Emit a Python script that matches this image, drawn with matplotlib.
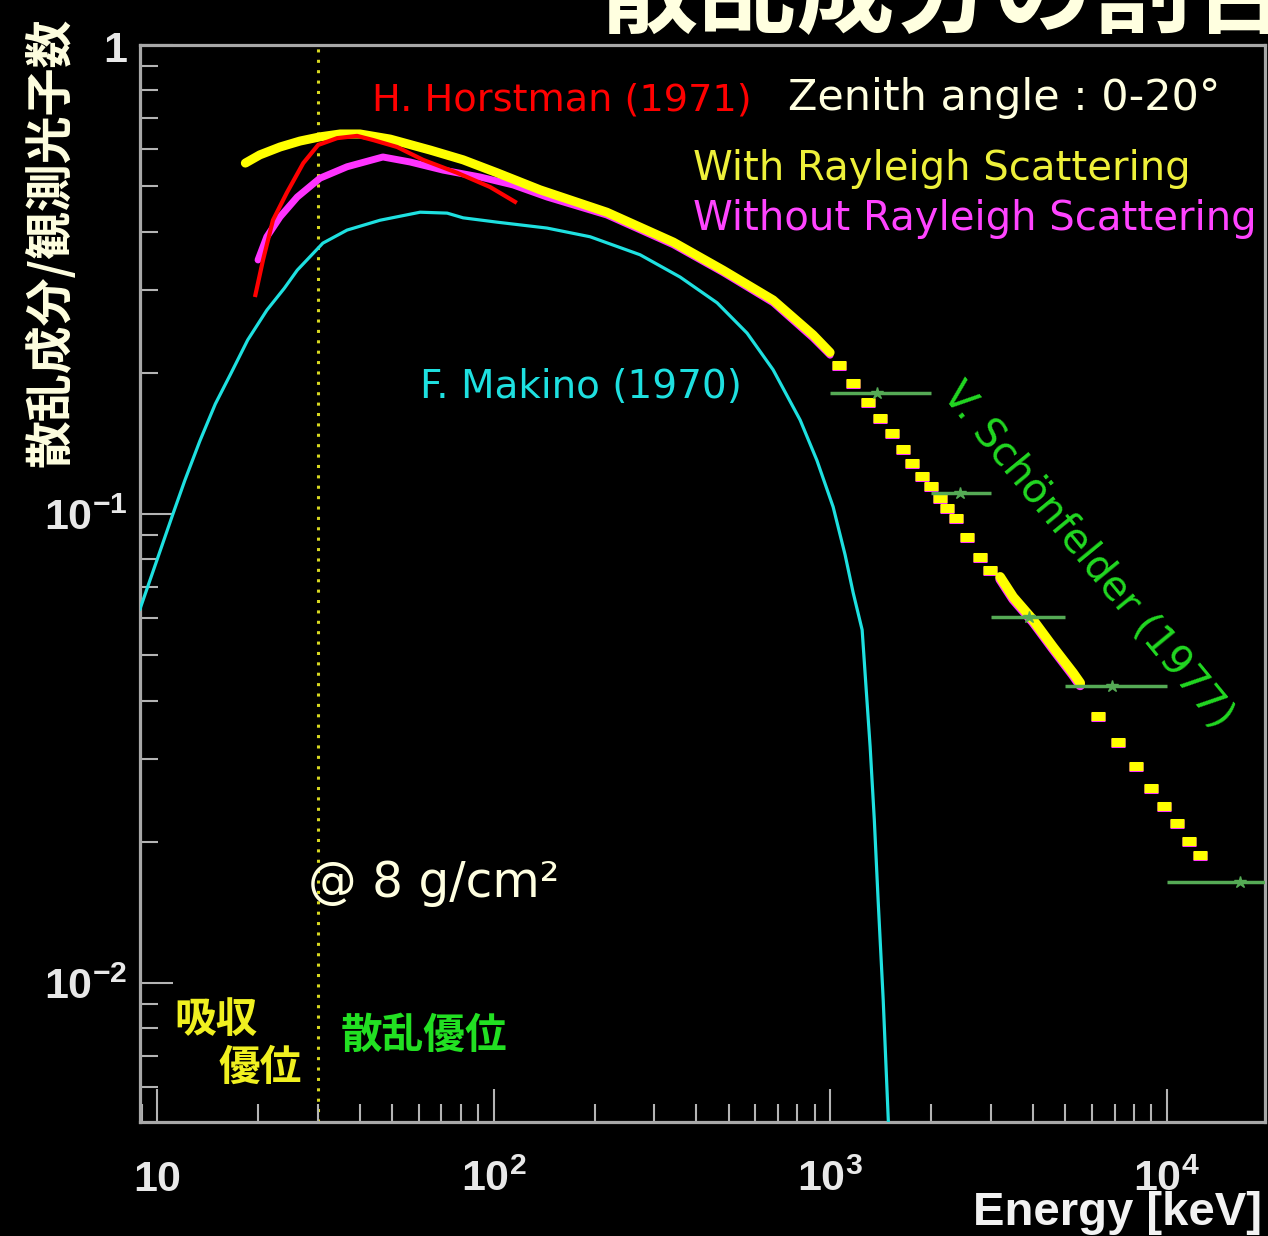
import matplotlib
matplotlib.use("Agg")
import matplotlib.pyplot as plt
from matplotlib.ticker import LogLocator, NullFormatter

plt.rcParams["mathtext.fontset"] = "custom"
plt.rcParams["mathtext.rm"] = "Liberation Sans:bold"
plt.rcParams["mathtext.bf"] = "Liberation Sans:bold"
plt.rcParams["mathtext.it"] = "Liberation Sans:bold"
plt.rcParams["mathtext.default"] = "rm"

# ---- data -------------------------------------------------------------
# Simulation, with Rayleigh scattering (continuous part up to 1 MeV)
with_e = [18.3, 20.2, 23.2, 26.6, 30.5, 35.0, 40.1, 49.3, 64.8, 81.2, 102.4,
          137.5, 217, 342, 481, 677, 890, 1000]
with_f = [0.560, 0.583, 0.606, 0.624, 0.637, 0.646, 0.646, 0.630, 0.597, 0.569,
          0.534, 0.491, 0.440, 0.380, 0.331, 0.286, 0.241, 0.221]

# Simulation, without Rayleigh scattering
without_e = [19.96, 21.2, 23.2, 26.1, 30.5, 36.7, 46.9, 56.5, 70.8, 91.2, 114.3,
             144.2, 217, 342, 481, 677, 890, 1000]
without_f = [0.348, 0.390, 0.430, 0.474, 0.520, 0.550, 0.577, 0.563, 0.541, 0.523,
             0.503, 0.474, 0.434, 0.375, 0.327, 0.282, 0.237, 0.218]

# High-energy bins of both simulations (sparse statistics)
hi_e1 = [1064, 1171, 1297, 1408, 1529, 1648, 1753, 1877, 1996, 2123, 2227, 2369,
         2553, 2792, 2989]
hi_with1 = [0.208, 0.190, 0.173, 0.160, 0.149, 0.1376, 0.1284, 0.1205, 0.1147,
            0.1082, 0.103, 0.098, 0.0893, 0.081, 0.076]
hi_without1 = [0.207, 0.189, 0.172, 0.159, 0.148, 0.137, 0.1278, 0.1199, 0.1141,
               0.1077, 0.1025, 0.0975, 0.0889, 0.0806, 0.0756]

mid_e = [3201, 3499, 4011, 4600, 5274, 5534]
mid_with = [0.0734, 0.0665, 0.0594, 0.052, 0.0458, 0.0436]
mid_without = [0.0726, 0.0658, 0.0588, 0.0515, 0.0453, 0.0431]

hi_e2 = [6257, 7177, 8120, 8995, 9831, 10746, 11667, 12583]
hi_with2 = [0.0371, 0.0327, 0.029, 0.026, 0.0238, 0.0219, 0.0201, 0.0187]
hi_without2 = [0.0369, 0.0325, 0.0288, 0.0259, 0.0237, 0.0218, 0.0200, 0.0186]

# H. Horstman (1971)
horst_e = [19.6, 20.65, 22.1, 24.3, 27.2, 30.1, 34.3, 39.3, 43.9, 51.7, 61.7,
           77.9, 97.6, 115.8]
horst_f = [0.293, 0.348, 0.423, 0.484, 0.560, 0.612, 0.633, 0.640, 0.627, 0.606,
           0.569, 0.534, 0.498, 0.463]

# F. Makino (1970)
makino_e = [8.9, 11.15, 12.1, 13.4, 14.9, 16.5, 18.6, 21.2, 23.9, 26.1, 31.1,
            36.7, 46.0, 60.5, 72.8, 81.2, 102.4, 144.2, 193.6, 272.5, 358.3,
            461.5, 566.6, 677, 814.6, 914, 1021, 1108, 1171, 1245, 1279, 1315,
            1353, 1389, 1438, 1500]
makino_f = [0.0627, 0.100, 0.118, 0.143, 0.1716, 0.198, 0.235, 0.272, 0.303,
            0.331, 0.378, 0.403, 0.423, 0.440, 0.438, 0.428, 0.419, 0.407,
            0.390, 0.357, 0.320, 0.282, 0.243, 0.203, 0.1586, 0.130, 0.1035,
            0.0818, 0.0679, 0.0566, 0.0426, 0.0319, 0.0223, 0.0150, 0.0092,
            0.0045]

# V. Schoenfelder (1977) measurements with energy bins
sch_e = [1380, 2430, 3900, 6900, 16500]
sch_lo = [1000, 2000, 3000, 5000, 10000]
sch_hi = [2000, 3000, 5000, 10000, 30000]
sch_f = [0.181, 0.111, 0.0603, 0.043, 0.0164]

boundary_e = 30  # keV, absorption / scattering crossover

xticks = [10, 100, 1000, 10000]
xticklabels = [r"$10$", r"$10^{2}$", r"$10^{3}$", r"$10^{4}$"]
yticks = [0.01, 0.1, 1.0]
yticklabels = [r"$10^{-2}$", r"$10^{-1}$", r"$1$"]

# ---- colours ----------------------------------------------------------
YEL = "#ffff00"
MAG = "#ff33ff"
RED = "#ff0000"
CYAN = "#1ee0e0"
GRN_PT = "#55aa55"
GRN_TXT = "#22d822"
CREAM = "#ffffe0"
FRAME = "#a8a8a8"

W, H = 1268, 1236
fig = plt.figure(figsize=(W / 100, H / 100), dpi=100, facecolor="black")
ax = fig.add_axes([140 / W, 1 - 1122 / H, 1125 / W, 1077 / H])
ax.set_facecolor("black")
ax.set_xscale("log")
ax.set_yscale("log")
ax.set_xlim(8.9, 19600)
ax.set_ylim(0.00505, 1.0)

for s in ax.spines.values():
    s.set_color(FRAME)
    s.set_linewidth(2.3)

ax.set_xticks(xticks, xticklabels, va="baseline")
ax.set_yticks(yticks, yticklabels)
ax.xaxis.set_minor_locator(LogLocator(base=10, subs=range(2, 10), numticks=20))
ax.yaxis.set_minor_locator(LogLocator(base=10, subs=range(2, 10), numticks=20))
ax.xaxis.set_minor_formatter(NullFormatter())
ax.yaxis.set_minor_formatter(NullFormatter())
ax.tick_params(which="both", direction="in", color="#b4b4b4", width=1.5,
               top=False, right=False, labelcolor="#e8e8e8", labelsize=31)
ax.tick_params(which="major", length=24)
ax.tick_params(which="minor", length=13)
ax.tick_params(axis="x", which="major", pad=50)
ax.tick_params(axis="y", which="major", pad=9)

# crossover line
ax.axvline(boundary_e, color="#d8d820", lw=2.2, ls=(0, (1, 2.4)), zorder=1)

# without Rayleigh (drawn under the Rayleigh curve)
ax.plot(without_e, without_f, color=MAG, lw=5, solid_capstyle="round", zorder=2)
ax.plot(mid_e, mid_without, color=MAG, lw=7, solid_capstyle="round", zorder=2)
ax.plot(hi_e1, hi_without1, ls="none", marker="_", ms=9.5, mew=6.5, color=MAG, zorder=2)
ax.plot(hi_e2, hi_without2, ls="none", marker="_", ms=9.5, mew=6.5, color=MAG, zorder=2)

# with Rayleigh
ax.plot(with_e, with_f, color=YEL, lw=6.5, solid_capstyle="round", zorder=3)
ax.plot(mid_e, mid_with, color=YEL, lw=7, solid_capstyle="round", zorder=3)
ax.plot(hi_e1, hi_with1, ls="none", marker="_", ms=10, mew=6.5, color=YEL, zorder=3)
ax.plot(hi_e2, hi_with2, ls="none", marker="_", ms=10, mew=6.5, color=YEL, zorder=3)

# reference measurements
ax.plot(horst_e, horst_f, color=RED, lw=3, zorder=4)
ax.plot(makino_e, makino_f, color=CYAN, lw=2.3, zorder=4)

xerr = [[c - lo for c, lo in zip(sch_e, sch_lo)],
        [hi - c for c, hi in zip(sch_e, sch_hi)]]
ax.errorbar(sch_e, sch_f, xerr=xerr, fmt="*", ms=9, color=GRN_PT,
            elinewidth=2.5, capsize=0, zorder=5)

# ---- annotations ------------------------------------------------------
def ftext(x, y, s, **kw):
    fig.text(x / W, 1 - y / H, s, **kw)

ftext(372, 110, "H. Horstman (1971)", color=RED, fontsize=27.5, va="baseline")
ftext(788, 110, "Zenith angle : 0-20°", color=CREAM, fontsize=31, va="baseline")
ftext(693, 180, "With Rayleigh Scattering", color="#eef03a", fontsize=29, va="baseline")
ftext(693, 230, "Without Rayleigh Scattering", color="#ff44ff", fontsize=29, va="baseline")
ftext(420, 398, "F. Makino (1970)", color=CYAN, fontsize=28, va="baseline")
ftext(308, 897, "@ 8 g/cm²", color=CREAM, fontsize=35, va="baseline")
ftext(1088, 555, "V. Schönfelder (1977)", color=GRN_TXT, fontsize=29,
      rotation=-50.6, rotation_mode="anchor", ha="center", va="center")

cjk = ["Noto Sans CJK JP", "DejaVu Sans"]
ftext(216, 1020, "吸収", color="#f0f020", fontsize=30, family=cjk,
      fontweight="bold", ha="center", va="center")
ftext(260, 1068, "優位", color="#f0f020", fontsize=30, family=cjk,
      fontweight="bold", ha="center", va="center")
ftext(424, 1036, "散乱優位", color="#22e022", fontsize=30, family=cjk,
      fontweight="bold", ha="center", va="center")

ftext(50, 242, "散乱成分/観測光子数", color=CREAM, fontsize=34.5, family=cjk,
      fontweight="bold", rotation=90, ha="center", va="center")
ftext(600, 25, "散乱成分の割合", color=CREAM, fontsize=71, family=cjk,
      fontweight="bold", va="baseline")
ftext(1262, 1225, "Energy [keV]", color="#f2f2f2", fontsize=34,
      family="Liberation Sans", fontweight="bold", ha="right", va="baseline")

fig.savefig("out.png", dpi=100, facecolor="black")
